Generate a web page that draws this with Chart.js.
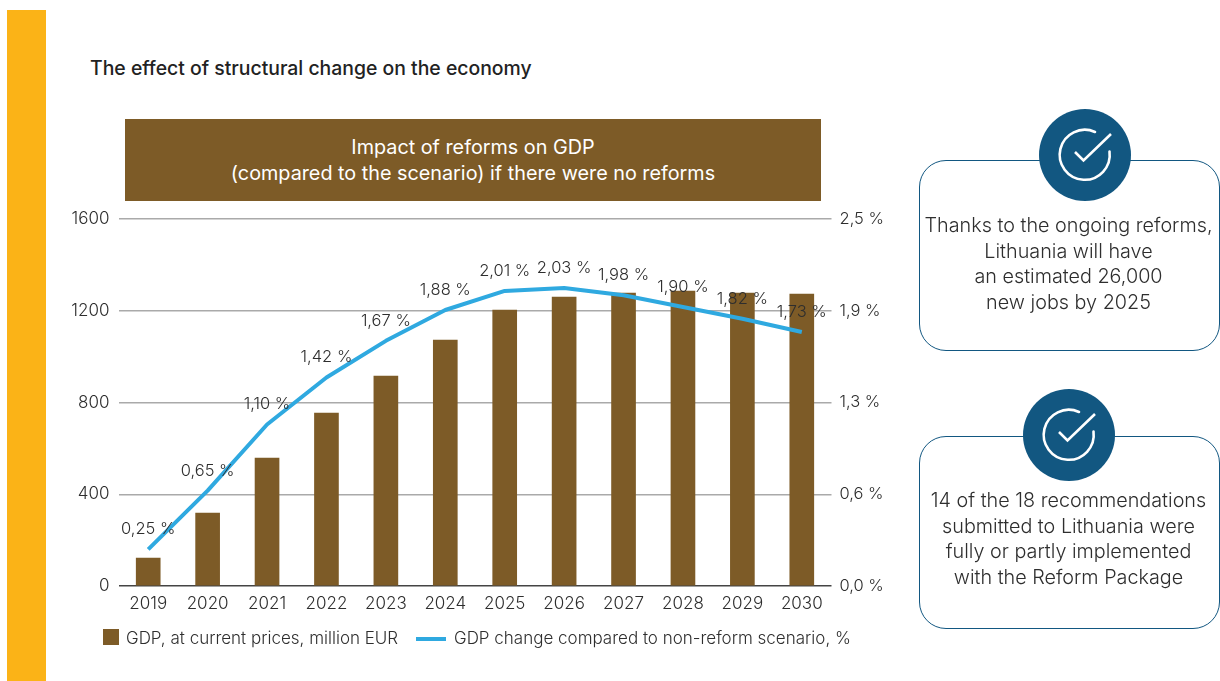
<!DOCTYPE html>
<html><head><meta charset="utf-8">
<script src="https://cdn.jsdelivr.net/npm/chart.js@4"></script>
<style>
html,body{margin:0;padding:0;background:#fff;width:1220px;height:681px;overflow:hidden;font-family:Inter,"Open Sans",sans-serif;color:#333}
#wrap{position:relative;width:1220px;height:681px}
canvas{position:absolute;left:0;top:0}
.abs{position:absolute}
#stripe{left:7px;top:10px;width:39px;height:671px;background:#fbb317}
#title{left:90px;top:56px;font-size:19.4px;font-weight:500;color:#222;white-space:nowrap;line-height:24px}
#banner{left:125px;top:119px;width:696px;height:82px;background:#7d5b27;color:#fff;font-size:19.8px;line-height:26px;text-align:center;box-sizing:border-box;padding-top:15px}
.box{left:919px;width:301px;box-sizing:border-box;border:1.5px solid #125781;border-radius:27px;background:#fff}
.boxtext{left:918.500px;width:300px;text-align:center;font-size:19.8px;font-weight:300;line-height:25.7px;color:#2e2e2e;white-space:nowrap}
svg{position:absolute}
.leg{position:absolute;font-size:17px;font-weight:300;color:#2e2e2e;white-space:nowrap;line-height:20px;top:628px}
.sw{position:absolute}
</style></head><body>
<div id="wrap">
<div class="abs" id="stripe"></div>
<div class="abs" id="title">The effect of structural change on the economy</div>
<canvas id="c" width="1220" height="681"></canvas>
<div class="abs" id="banner">Impact of reforms on GDP<br>(compared to the scenario) if there were no reforms</div>

<div class="abs box" style="top:160px;height:191px"></div>
<svg style="left:1039px;top:109px" width="92" height="92" viewBox="0 0 92 92"><circle cx="46" cy="46" r="46" fill="#125781"/><path d="M70.500 42.500A25 25 0 1 1 56 23" fill="none" stroke="#fff" stroke-width="2.6" stroke-linecap="round"/><path d="M36 43L44.500 51.500L72 25" fill="none" stroke="#fff" stroke-width="2.6"/></svg>
<div class="abs boxtext" style="top:213px">Thanks to the ongoing reforms,<br>Lithuania will have<br>an estimated 26,000<br>new jobs by 2025</div>

<div class="abs box" style="top:436px;height:193px"></div>
<svg style="left:1023px;top:389px" width="92" height="92" viewBox="0 0 92 92"><circle cx="46" cy="46" r="46" fill="#125781"/><path d="M70.500 42.500A25 25 0 1 1 56 23" fill="none" stroke="#fff" stroke-width="2.6" stroke-linecap="round"/><path d="M36 43L44.500 51.500L72 25" fill="none" stroke="#fff" stroke-width="2.6"/></svg>
<div class="abs boxtext" style="top:488px">14 of the 18 recommendations<br>submitted to Lithuania were<br>fully or partly implemented<br>with the Reform Package</div>

<div id="legend"></div>
</div>
<script>
const categories = ['2019','2020','2021','2022','2023','2024','2025','2026','2027','2028','2029','2030'];
const gdpValues = [122,318,558,754,915,1072,1203,1260,1277,1286,1277,1273];
const changeValues = [0.25,0.65,1.10,1.42,1.67,1.88,2.01,2.03,1.98,1.90,1.82,1.73];
const changeLabels = ['0,25 %','0,65 %','1,10 %','1,42 %','1,67 %','1,88 %','2,01 %','2,03 %','1,98 %','1,90 %','1,82 %','1,73 %'];
const leftTickLabels = ['0','400','800','1200','1600'];
const rightTickLabels = ['0,0 %','0,6 %','1,3 %','1,9 %','2,5 %'];
const gdpName = 'GDP, at current prices, million EUR';
const changeName = 'GDP change compared to non-reform scenario, %';
const BROWN = '#7d5b27', BLUE = '#2fa9e0', TEXT = '#2e2e2e';
const FAMILY = 'Inter, "Open Sans", sans-serif';
const FONT = {family:FAMILY, size:17, weight:'300'};

const lineLabels = {
  id:'lineLabels',
  afterDatasetsDraw(chart){
    const meta = chart.getDatasetMeta(0), ctx = chart.ctx;
    ctx.save();
    ctx.font = `300 16.500px ${FAMILY}`;
    ctx.fillStyle = TEXT;
    ctx.textAlign = 'center';
    ctx.textBaseline = 'middle';
    meta.data.forEach((p,i)=>ctx.fillText(changeLabels[i], p.x, p.y - 20));
    ctx.restore();
  }
};

const chart = new Chart(document.getElementById('c'),{
  data:{
    labels:categories,
    datasets:[
      {type:'line',label:changeName,data:changeValues,yAxisID:'yr',order:1,borderColor:BLUE,borderWidth:4,pointRadius:0,tension:0,borderJoinStyle:'round',fill:false},
      {type:'bar',label:gdpName,data:gdpValues,yAxisID:'yl',order:2,backgroundColor:BROWN,barThickness:24}
    ]
  },
  options:{
    responsive:false,animation:false,
    layout:{padding:{top:219,left:0,right:0,bottom:0}},
    plugins:{legend:{display:false},tooltip:{enabled:false}},
    scales:{
      x:{
        grid:{display:false},border:{display:false},
        ticks:{color:TEXT,font:FONT,padding:0,maxRotation:0,autoSkip:false},
        afterFit(s){s.height=95;}
      },
      yl:{
        position:'left',min:0,max:1600,
        grid:{drawTicks:false,lineWidth:1.5,color:c=>c.tick.value===0?'#444444':'#aaaaaa'},
        border:{display:false},
        ticks:{stepSize:400,color:TEXT,font:FONT,padding:9,callback:(v,i)=>leftTickLabels[i]},
        afterFit(s){s.width=118.5;}
      },
      yr:{
        position:'right',min:0,max:2.5,
        grid:{display:false,drawTicks:false},border:{display:false},
        ticks:{stepSize:0.625,color:TEXT,font:{family:FAMILY,size:16.5,weight:'300'},padding:8,callback:(v,i)=>rightTickLabels[i]},
        afterFit(s){s.width=388.5;}
      }
    }
  },
  plugins:[lineLabels]
});

// Legend built from the chart's own datasets
const lg = document.getElementById('legend');
chart.data.datasets.forEach(ds=>{
  const isBar = ds.type==='bar';
  const sw = document.createElement('div');
  sw.className='sw';
  sw.style.cssText = isBar
    ? `left:103px;top:629px;width:16px;height:16px;background:${ds.backgroundColor}`
    : `left:416px;top:637px;width:30px;height:4px;background:${ds.borderColor}`;
  lg.appendChild(sw);
  const t = document.createElement('div');
  t.className='leg';
  t.style.left = (isBar?126:454)+'px';
  t.textContent = ds.label;
  lg.appendChild(t);
});
</script>
</body></html>
